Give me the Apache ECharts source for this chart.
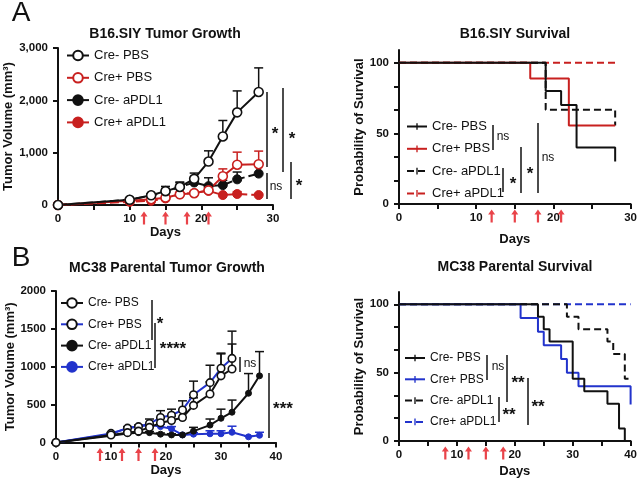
<!DOCTYPE html>
<html><head><meta charset="utf-8">
<script src="https://cdn.jsdelivr.net/npm/echarts@6/dist/echarts.min.js"></script>
<style>html,body{margin:0;padding:0;background:#fff}#c{width:640px;height:480px}</style>
</head><body><div id="c"></div>
<script>
const FONT = '"Liberation Sans", Arial, Helvetica, sans-serif';
const BLACK = '#111111', RED = '#c8201f', BLUE = '#2233cc', ARROW = '#e3141b';

// ---------- Panel A: B16.SIY tumor growth ----------
const daysA = [0, 10, 13, 15, 17, 19, 21, 23, 25, 28];
const aCreNegPBS      = [0, 100, 185, 265, 345, 500, 830, 1310, 1770, 2160];
const aCreNegPBSsem   = [0, 15, 30, 90, 95, 110, 205, 305, 410, 460];
const aCrePosPBS      = [0, 80, 110, 140, 205, 225, 280, 550, 770, 780];
const aCrePosPBSsem   = [0, 10, 15, 20, 30, 30, 40, 140, 240, 250];
const aCreNegAPDL1    = [0, 100, 180, 255, 345, 430, 360, 380, 490, 600];
const aCreNegAPDL1sem = [0, 15, 30, 60, 80, 60, 160, 90, 140, 200];
const aCrePosAPDL1    = [0, 60, 80, 125, 205, 230, 270, 190, 210, 190];
const aCrePosAPDL1sem = [0, 10, 10, 15, 20, 30, 30, 25, 45, 20];
const treatDaysA = [12, 15, 18, 21];

// ---------- Panel A: B16.SIY survival (Kaplan-Meier steps) ----------
const survA_CreNegPBS   = [[0, 100], [19, 80], [21, 70], [23, 40], [28, 30]];
const survA_CrePosPBS   = [[0, 100], [17, 88.9], [22, 55.6], [28, 55.6]];
const survA_CreNegAPDL1 = [[0, 100], [19, 66.7], [28, 55.6]];
const survA_CrePosAPDL1 = [[0, 100], [28, 100]];

// ---------- Panel B: MC38 parental tumor growth ----------
const daysB_PBS   = [0, 10, 13, 15, 17, 19, 21, 23, 25, 28, 30, 32];
const daysB_APDL1 = [0, 10, 13, 15, 17, 19, 21, 23, 25, 28, 30, 32, 35, 37];
const bCreNegPBS      = [0, 100, 130, 150, 200, 260, 290, 330, 490, 640, 880, 970];
const bCreNegPBSsem   = [0, 10, 15, 20, 40, 60, 60, 80, 100, 160, 290, 330];
const bCrePosPBS      = [0, 120, 190, 210, 250, 330, 360, 430, 630, 790, 980, 1110];
const bCrePosPBSsem   = [0, 10, 20, 20, 60, 90, 80, 120, 180, 230, 200, 360];
const bCreNegAPDL1    = [0, 90, 120, 130, 130, 110, 100, 100, 150, 230, 320, 400, 650, 880];
const bCreNegAPDL1sem = [0, 10, 15, 15, 15, 15, 15, 15, 50, 80, 120, 160, 260, 320];
const bCrePosAPDL1    = [0, 110, 190, 210, 230, 210, 180, 100, 110, 115, 115, 135, 75, 95];
const bCrePosAPDL1sem = [0, 10, 15, 15, 20, 30, 30, 15, 20, 40, 40, 80, 10, 40];
const treatDaysB = [8, 12, 15, 18];

// ---------- Panel B: MC38 parental survival ----------
const survB_CreNegPBS   = [[0, 100], [24, 90.9], [25, 81.8], [26, 72.7], [30, 45.5], [32, 36.4], [36, 27.3], [38, 9.1], [39, 0]];
const survB_CrePosPBS   = [[0, 100], [21, 90], [24, 80], [25, 70], [28, 60], [29, 50], [31, 40], [40, 40], [40, 26.7]];
const survB_CreNegAPDL1 = [[0, 100], [29, 90.9], [31, 81.8], [36, 72.7], [37, 63.6], [39, 45.5], [40, 45.5]];
const survB_CrePosAPDL1 = [[0, 100], [40, 100]];

// ---------- labels ----------
const groupNames = ['Cre- PBS', 'Cre+ PBS', 'Cre- aPDL1', 'Cre+ aPDL1'];
const growthTicksA = [0, 1000, 2000, 3000];
const growthTicksB = [0, 500, 1000, 1500, 2000];
const survTickLabels = [0, 50, 100];

const pair = (xs, ys) => xs.map((x, i) => [x, ys[i]]);
const triple = (xs, ys, es) => xs.map((x, i) => [x, ys[i], es[i]]).filter(d => d[2] > 0);

const grids = [
  {left: 58, top: 48, width: 215, height: 157},
  {left: 399, top: 50, width: 234, height: 154},
  {left: 56, top: 291, width: 220, height: 151.5},
  {left: 399, top: 292, width: 232, height: 149}
];

const axisBase = {
  axisLine: {lineStyle: {color: BLACK, width: 2}},
  axisTick: {lineStyle: {color: BLACK, width: 2}, length: 5},
  splitLine: {show: false},
  nameTextStyle: {fontFamily: FONT, fontWeight: 'bold', fontSize: 13, color: BLACK},
};
const labelStyle = {fontFamily: FONT, fontWeight: 'bold', fontSize: 11.5, color: BLACK};

function xAxisDef(gi, max, nameGap) {
  const ticks = []; for (let v = 0; v <= max; v += 5) ticks.push(v);
  const labs = []; for (let v = 0; v <= max; v += 10) labs.push(v);
  return Object.assign({}, axisBase, {
    gridIndex: gi, type: 'value', min: 0, max: max,
    name: 'Days', nameLocation: 'middle', nameGap: nameGap,
    axisTick: Object.assign({}, axisBase.axisTick, {customValues: ticks}),
    axisLabel: Object.assign({}, labelStyle, {customValues: labs, margin: 8}),
  });
}

const sixths = [0, 100/6, 200/6, 50, 400/6, 500/6, 100];
function survY(gi, nameGap) {
  return Object.assign({}, axisBase, {
    gridIndex: gi, type: 'value', min: 0, max: 109,
    name: 'Probability of Survival', nameLocation: 'middle', nameGap: nameGap,
    axisTick: Object.assign({}, axisBase.axisTick, {customValues: sixths}),
    axisLabel: Object.assign({}, labelStyle, {customValues: survTickLabels, margin: 10}),
  });
}

function growthLine(name, xi, xs, ys, color, open, dashed, size) {
  return {
    name: name, type: 'line', xAxisIndex: xi, yAxisIndex: xi,
    data: pair(xs, ys), symbol: 'circle', symbolSize: size, color: color,
    lineStyle: {color: color, width: 2, type: dashed ? [9, 4] : 'solid'},
    itemStyle: open ? {color: '#ffffff', borderColor: color === RED ? RED : BLACK, borderWidth: 1.6}
                    : {color: color, borderColor: color, borderWidth: 1},
    z: 5, animation: false
  };
}

function errBars(xi, xs, ys, es, color) {
  return {
    type: 'custom', xAxisIndex: xi, yAxisIndex: xi, z: 3,
    data: triple(xs, ys, es), silent: true, animation: false,
    renderItem: function (params, api) {
      const p1 = api.coord([api.value(0), api.value(1)]);
      const p2 = api.coord([api.value(0), api.value(1) + api.value(2)]);
      const st = {stroke: color, lineWidth: 1.5};
      return {type: 'group', children: [
        {type: 'line', shape: {x1: p1[0], y1: p1[1], x2: p2[0], y2: p2[1]}, style: st},
        {type: 'line', shape: {x1: p2[0] - 4.5, y1: p2[1], x2: p2[0] + 4.5, y2: p2[1]}, style: st}
      ]};
    }
  };
}

// censor-tick symbol (shown in the legend icon only); square bbox keeps the bar thin
const TICK_PATH = 'path://M0,0 L0,0 Z M10,10 L10,10 Z M4.3,1.5 L5.7,1.5 L5.7,8.5 L4.3,8.5 Z';
function survLine(name, xi, data, color, dashed) {
  return {
    name: name, type: 'line', xAxisIndex: xi, yAxisIndex: xi, data: data,
    step: 'end', symbol: TICK_PATH, symbolSize: 8, showSymbol: false,
    z: 4, animation: false, color: color, itemStyle: {color: color, borderWidth: 0},
    lineStyle: {color: color, width: 2, type: dashed ? [7, 4] : 'solid'}
  };
}

const ARROW_PATH = 'path://M3.5,0 L7,5.5 L4.6,5.5 L4.6,14 L2.4,14 L2.4,5.5 L0,5.5 Z';
function arrows(xi, days, off) {
  return {
    type: 'scatter', xAxisIndex: xi, yAxisIndex: xi, data: days.map(d => [d, 0]),
    symbol: ARROW_PATH, symbolSize: [7, 13], symbolOffset: [0, off], clip: false,
    itemStyle: {color: ARROW}, z: 6, silent: true, animation: false
  };
}

const nm = (p, g) => p + '|' + g;
const series = [
  // A growth
  errBars(0, daysA, aCrePosAPDL1, aCrePosAPDL1sem, RED),
  errBars(0, daysA, aCreNegAPDL1, aCreNegAPDL1sem, BLACK),
  errBars(0, daysA, aCrePosPBS, aCrePosPBSsem, RED),
  errBars(0, daysA, aCreNegPBS, aCreNegPBSsem, BLACK),
  growthLine(nm('A', groupNames[3]), 0, daysA, aCrePosAPDL1, RED, false, true, 9),
  growthLine(nm('A', groupNames[2]), 0, daysA, aCreNegAPDL1, BLACK, false, true, 9),
  growthLine(nm('A', groupNames[1]), 0, daysA, aCrePosPBS, RED, true, false, 9),
  growthLine(nm('A', groupNames[0]), 0, daysA, aCreNegPBS, BLACK, true, false, 9),
  arrows(0, treatDaysA, 13),
  // A survival
  survLine(nm('S', groupNames[3]), 1, survA_CrePosAPDL1, RED, true),
  survLine(nm('S', groupNames[2]), 1, survA_CreNegAPDL1, BLACK, true),
  survLine(nm('S', groupNames[1]), 1, survA_CrePosPBS, RED, false),
  survLine(nm('S', groupNames[0]), 1, survA_CreNegPBS, BLACK, false),
  arrows(1, treatDaysA, 12),
  // B growth
  errBars(2, daysB_APDL1, bCrePosAPDL1, bCrePosAPDL1sem, BLUE),
  errBars(2, daysB_APDL1, bCreNegAPDL1, bCreNegAPDL1sem, BLACK),
  errBars(2, daysB_PBS, bCrePosPBS, bCrePosPBSsem, BLACK),
  errBars(2, daysB_PBS, bCreNegPBS, bCreNegPBSsem, BLACK),
  growthLine(nm('B', groupNames[3]), 2, daysB_APDL1, bCrePosAPDL1, BLUE, false, false, 6),
  growthLine(nm('B', groupNames[2]), 2, daysB_APDL1, bCreNegAPDL1, BLACK, false, false, 6),
  growthLine(nm('B', groupNames[1]), 2, daysB_PBS, bCrePosPBS, BLUE, true, false, 7.5),
  growthLine(nm('B', groupNames[0]), 2, daysB_PBS, bCreNegPBS, BLACK, true, false, 7.5),
  arrows(2, treatDaysB, 12),
  // B survival
  survLine(nm('T', groupNames[3]), 3, survB_CrePosAPDL1, BLUE, true),
  survLine(nm('T', groupNames[2]), 3, survB_CreNegAPDL1, BLACK, true),
  survLine(nm('T', groupNames[1]), 3, survB_CrePosPBS, BLUE, false),
  survLine(nm('T', groupNames[0]), 3, survB_CreNegPBS, BLACK, false),
  arrows(3, treatDaysB, 12),
];

function legendDef(prefix, left, top, fs, w, solid) {
  const l = {
    orient: 'vertical', left: left, top: top, padding: 0, itemWidth: w, itemHeight: 12, itemGap: 9.3,
    data: groupNames.map(g => nm(prefix, g)), selectedMode: false,
    formatter: n => n.split('|')[1],
    textStyle: {fontFamily: FONT, fontSize: fs, color: BLACK}
  };
  if (solid) l.lineStyle = {type: 'solid'};
  return l;
}

// significance annotations (pixel layout)
const annLines = [
  [267, 92, 267, 167], [267, 173, 267, 199], [283, 88, 283, 172], [291, 162, 291, 199],
  [493, 125, 493, 150], [503, 168, 503, 192], [521, 147, 521, 193], [538, 123, 538, 193],
  [152, 300, 152, 340], [155, 323, 155, 368], [240, 357, 240, 372], [269, 373, 269, 438],
  [487, 355, 487, 380], [507, 355, 507, 402], [499, 397, 499, 422], [528, 378, 528, 425]
];
const annTexts = [
  ['*', 275, 130], ['ns', 276, 187], ['*', 292, 135], ['*', 299, 182],
  ['ns', 503, 137], ['*', 513, 180], ['*', 530, 170], ['ns', 548, 158],
  ['*', 160, 320], ['****', 173, 345], ['ns', 250, 364], ['***', 283, 405],
  ['ns', 498, 367], ['**', 518, 379], ['**', 509, 411], ['**', 538, 403]
];
const titles = [
  ['B16.SIY Tumor Growth', 165, 34], ['B16.SIY Survival', 515, 34],
  ['MC38 Parental Tumor Growth', 167, 268], ['MC38 Parental Survival', 515, 267]
];
const panelLetters = [['A', 21, 13], ['B', 21, 258]];

const graphic = [];
annLines.forEach(l => graphic.push({type: 'line', shape: {x1: l[0], y1: l[1], x2: l[2], y2: l[3]}, style: {stroke: BLACK, lineWidth: 1.5}, silent: true}));
annTexts.forEach(t => {
  const star = t[0].indexOf('*') >= 0;
  graphic.push({type: 'text', x: t[1], y: t[2] + (star ? 4 : 0), silent: true,
    style: {text: t[0], font: (star ? 'bold 17px ' : '12px ') + FONT, fill: BLACK, align: 'center', verticalAlign: 'middle'}});
});
titles.forEach(t => graphic.push({type: 'text', x: t[1], y: t[2], silent: true,
  style: {text: t[0], font: 'bold 14px ' + FONT, fill: BLACK, align: 'center', verticalAlign: 'middle'}}));
panelLetters.forEach(t => graphic.push({type: 'text', x: t[1], y: t[2], silent: true,
  style: {text: t[0], font: '28px ' + FONT, fill: BLACK, align: 'center', verticalAlign: 'middle'}}));

const option = {
  animation: false,
  backgroundColor: '#ffffff',
  grid: grids,
  xAxis: [xAxisDef(0, 30, 21), xAxisDef(1, 30, 29), xAxisDef(2, 40, 21), xAxisDef(3, 40, 24)],
  yAxis: [
    Object.assign({}, axisBase, {gridIndex: 0, type: 'value', min: 0, max: 3000,
      name: 'Tumor Volume (mm³)', nameLocation: 'middle', nameGap: 41,
      axisTick: Object.assign({}, axisBase.axisTick, {customValues: growthTicksA}),
      axisLabel: Object.assign({}, labelStyle, {customValues: growthTicksA, margin: 10,
        formatter: v => v.toLocaleString('en-US')})}),
    survY(1, 32),
    Object.assign({}, axisBase, {gridIndex: 2, type: 'value', min: 0, max: 2000,
      name: 'Tumor Volume (mm³)', nameLocation: 'middle', nameGap: 36,
      axisTick: Object.assign({}, axisBase.axisTick, {customValues: growthTicksB}),
      axisLabel: Object.assign({}, labelStyle, {customValues: growthTicksB, margin: 10,
        formatter: v => String(v)})}),
    survY(3, 28)
  ],
  legend: [
    legendDef('A', 66, 49, 13, 22, true),
    legendDef('S', 406, 120, 13, 20, false),
    legendDef('B', 60, 297, 12, 22, true),
    legendDef('T', 404, 352, 12, 20, false)
  ],
  series: series,
  graphic: graphic
};

const chart = echarts.init(document.getElementById('c'), null, {renderer: 'canvas'});
chart.setOption(option);
</script></body></html>
